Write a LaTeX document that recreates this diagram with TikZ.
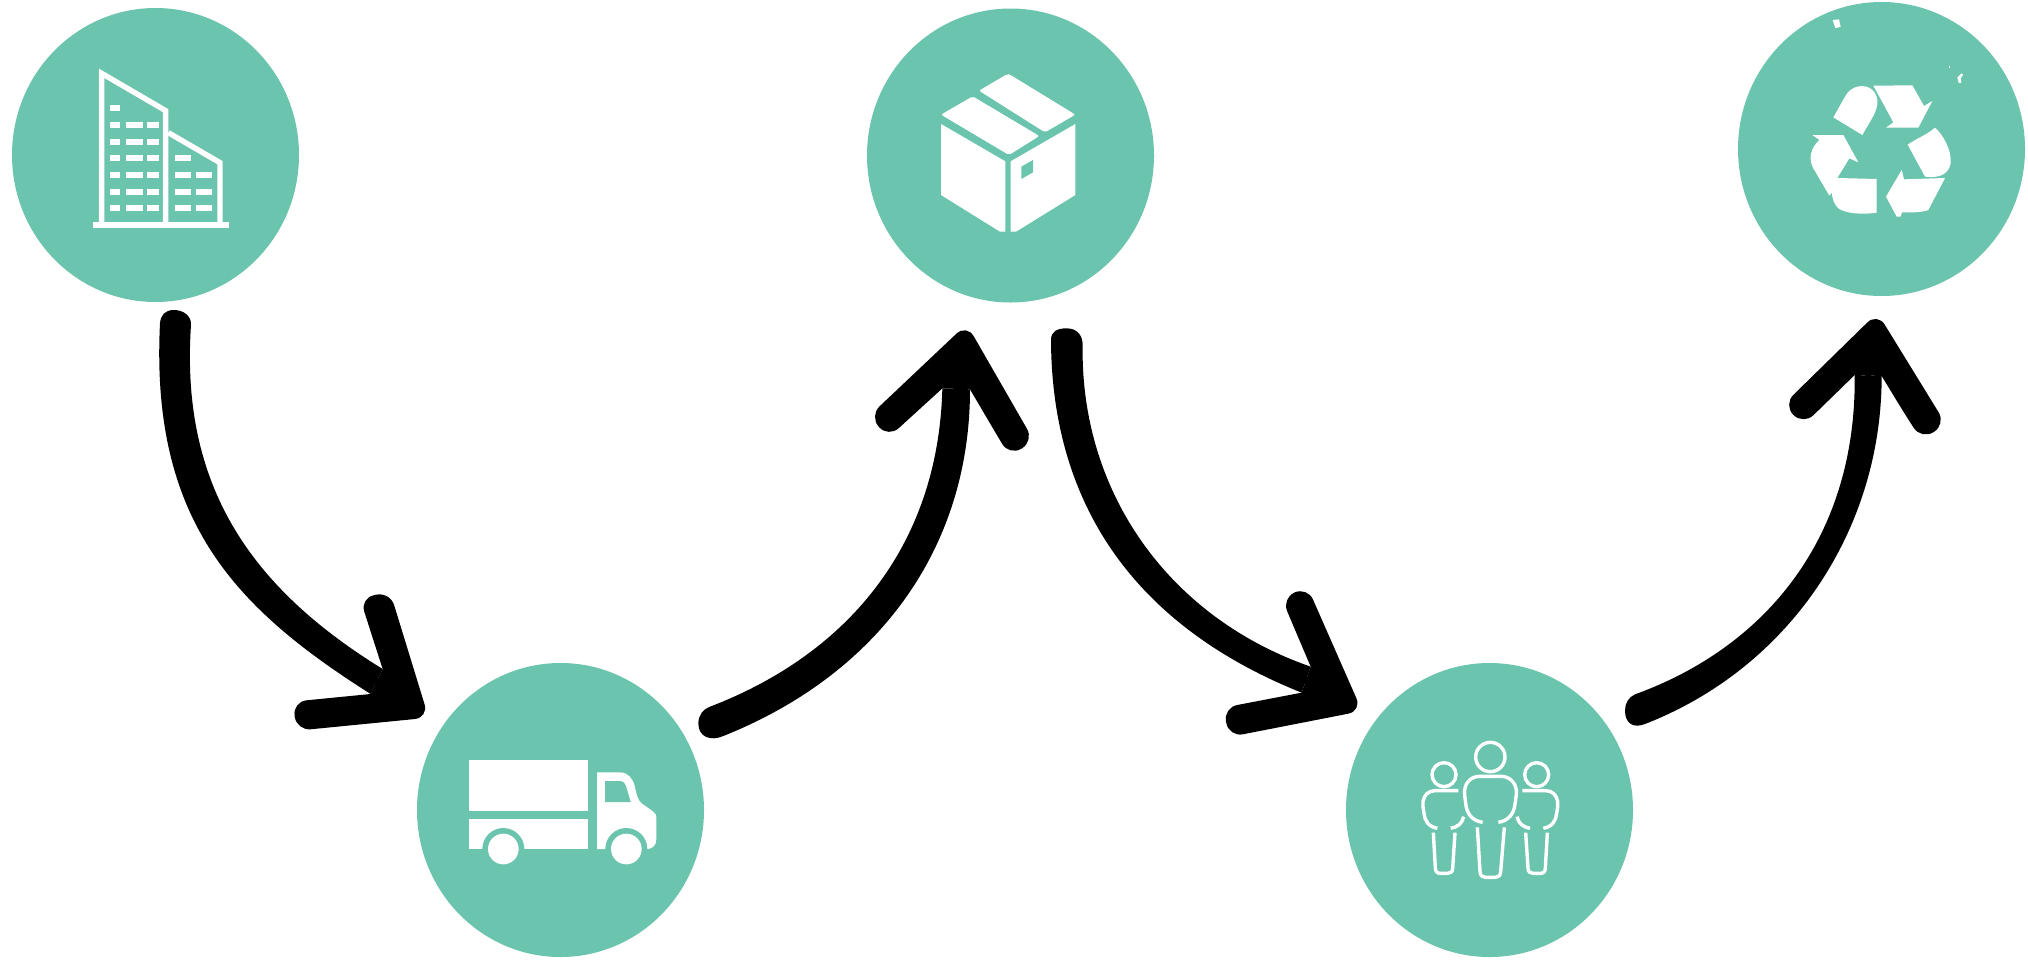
\documentclass[tikz,border=0pt]{standalone}
\usetikzlibrary{shapes.geometric}
\definecolor{teal1}{HTML}{6BC4AD}
\tikzset{
  disc/.style={ellipse,fill=teal1,draw=none,inner sep=0pt,minimum width=287pt,minimum height=294pt},
  zoomed/.style={x=0.33333pt,y=-0.33333pt},
  shaftbody/.style={fill=black,draw=none},
  headbody/.style={fill=black,draw=none},
  connector/.style={draw=black,line width=6pt},
  iconfill/.style={fill=white,draw=none},
  iconline/.style={draw=white,line width=5.4pt,fill=none},
  personline/.style={draw=white,line width=3.4pt,fill=none,line cap=butt,line join=round}
}
\begin{document}
\begin{tikzpicture}[x=1pt,y=-1pt]
\path[use as bounding box,fill=white] (0,0) rectangle (2028,959);

\node[disc] (factory) at (155.5,155) {};
\node[disc] (box) at (1010.5,155.5) {};
\node[disc] (recycle) at (1881.5,149) {};
\node[disc] (truck) at (560.5,810) {};
\node[disc] (people) at (1489.5,810) {};

% building
\begin{scope}[zoomed]
\draw[iconline,line join=miter] (305,672) -- (305,220) -- (497,332) -- (497,672);
\draw[iconline,line join=miter] (505,398) -- (660,488) -- (660,672);
\fill[white] (280,666) rectangle (686,684);
\foreach \yy in {324,375,425,475,525,575,625} {\fill[white] (329,\yy-9) rectangle (361,\yy+9);}
\foreach \yy in {375,425,475,525,575,625} {
  \fill[white] (378,\yy-9) rectangle (428,\yy+9);
  \fill[white] (442,\yy-9) rectangle (477,\yy+9);}
\foreach \yy in {475,525,575,625} {\fill[white] (525,\yy-9) rectangle (574,\yy+9);}
\foreach \yy in {525,575,625} {\fill[white] (588,\yy-9) rectangle (637,\yy+9);}
\end{scope}

% box
\begin{scope}[shift={(860,0)},zoomed]
\fill[iconfill,rounded corners=2pt] (357,272) -- (442,222) -- (450,224) -- (646,344) -- (555,397) -- cycle;
\fill[iconfill,rounded corners=2pt] (243,344) -- (338,289) -- (538,408) -- (447,465) -- cycle;
\fill[iconfill] (243,372) -- (436,484) -- (436,695) -- (420,695) -- (243,585) -- cycle;
\fill[iconfill] (452,484) -- (646,372) -- (646,585) -- (468,695) -- (452,695) -- cycle;
\fill[teal1] (484,500) -- (519,480) -- (519,517) -- (484,537) -- cycle;
\end{scope}

% recycle
\begin{scope}[shift={(1730,0)},zoomed]
\fill[iconfill] (310,352) -- (345,290) .. controls (360,262) and (385,255) .. (410,260) .. controls (435,268) and (448,295) .. (440,322) .. controls (435,345) and (415,372) .. (397,405) -- cycle;
\fill[iconfill] (430,257) -- (547,256) -- (582,318) -- (607,303) -- (565,383) -- (468,383) -- (490,367) -- cycle;
\fill[iconfill] (533,434) .. controls (560,415) and (590,405) .. (615,383) .. controls (640,405) and (665,450) .. (662,490) .. controls (655,525) and (625,535) .. (585,530) -- cycle;
\fill[iconfill] (645,534) -- (595,630) .. controls (575,638) and (545,637) .. (516,637) -- (512,650) -- (500,650) -- (468,590) -- (515,510) -- (522,538) -- cycle;
\fill[iconfill] (247,405) -- (340,405) -- (385,487) -- (358,475) -- (322,534) -- (440,537) -- (440,638) .. controls (395,645) and (345,640) .. (325,625) .. controls (312,612) and (308,600) .. (305,578) -- (298,587) -- (250,505) .. controls (235,480) and (240,445) .. (268,420) -- cycle;
\fill[iconfill] (308,60) -- (327,58) -- (332,80) -- (316,85) -- cycle;
\fill[iconfill] (682,232) -- (695,220) -- (699,224) -- (692,236) -- (694,248) -- (686,249) -- cycle;
\fill[iconfill] (657,199) rectangle (660,203);
\end{scope}

% truck
\begin{scope}[shift={(300,700)},zoomed]
\fill[iconfill] (508,180) rectangle (865,332);
\fill[iconfill] (508,357) rectangle (865,447);
\fill[teal1] (610,447) circle[radius=63];
\fill[iconfill] (610,447) circle[radius=46];
\end{scope}
\begin{scope}[shift={(540,700)},zoomed]
\fill[iconfill] (171,217) -- (240,217) .. controls (265,218) and (278,235) .. (284,258) .. controls (290,285) and (293,300) .. (305,310) -- (340,335) .. controls (346,340) and (349,345) .. (349,352) -- (349,418) .. controls (349,435) and (338,446) .. (323,447) -- (171,447) -- cycle;
\fill[teal1] (259,447) circle[radius=63];
\fill[iconfill] (259,447) circle[radius=46];
\fill[teal1] (195,243) -- (238,243) .. controls (250,243) and (256,250) .. (258,258) -- (272,306) -- (195,306) -- cycle;
\end{scope}

% people
\begin{scope}[shift={(1400,700)},zoomed]
\draw[personline] (271,171) circle[radius=44];
\draw[personline] (132,224) circle[radius=36];
\draw[personline] (410,224) circle[radius=36];
\draw[personline] (248,367) .. controls (215,362) and (200,340) .. (197,310) .. controls (195,295) and (193,280) .. (194,270) .. controls (197,245) and (215,229) .. (240,229) -- (302,229) .. controls (327,229) and (345,245) .. (349,270) .. controls (350,285) and (347,295) .. (345,312) .. controls (342,340) and (327,362) .. (295,367);
\draw[personline] (232,382) -- (240,515) .. controls (241,527) and (247,532) .. (256,532) -- (286,532) .. controls (295,532) and (301,527) .. (302,515) -- (313,382);
\draw[personline] (112,385) .. controls (85,380) and (74,362) .. (72,340) .. controls (70,325) and (67,315) .. (69,305) .. controls (72,285) and (85,272) .. (105,272) -- (175,272);
\draw[personline] (152,385) .. controls (172,382) and (187,370) .. (191,350);
\draw[personline] (100,398) -- (106,505) .. controls (107,516) and (112,520) .. (122,520) -- (143,520) .. controls (152,520) and (157,516) .. (158,505) -- (165,398);
\draw[personline] (430,385) .. controls (457,380) and (468,362) .. (470,340) .. controls (472,325) and (475,315) .. (473,305) .. controls (470,285) and (457,272) .. (437,272) -- (367,272);
\draw[personline] (390,385) .. controls (370,382) and (355,370) .. (351,350);
\draw[personline] (442,398) -- (436,505) .. controls (435,516) and (430,520) .. (420,520) -- (399,520) .. controls (390,520) and (385,516) .. (384,505) -- (377,398);
\end{scope}

% arrow factory -> truck
\begin{scope}[shift={(100,290)},zoomed]
\coordinate (a1s) at (227,105);
\coordinate (a1t) at (930,1243);
\fill[shaftbody] (273,105) .. controls (240,590) and (455,895) .. (848,1137) -- (812,1212) .. controls (415,960) and (150,700) .. (180,100) .. controls (182,75) and (195,60) .. (222,60) .. controls (252,60) and (275,80) .. (273,105) -- cycle;
\fill[headbody] (848,1137) [rounded corners=14pt] -- (780,925) -- (870,905) -- (986,1283) -- (590,1322) -- (578,1235) -- (700,1223) [sharp corners] -- (812,1212) -- cycle;
\draw[connector] (a1s) .. controls (195,645) and (435,928) .. (830,1175) -- (a1t);
\end{scope}

% arrow truck -> box
\begin{scope}[shift={(680,290)},zoomed]
\coordinate (a2s) at (100,1298);
\coordinate (a2t) at (850,170);
\fill[shaftbody] (90,1250) .. controls (495,1095) and (775,775) .. (787,295) -- (870,298) .. controls (870,770) and (600,1150) .. (130,1338) .. controls (90,1355) and (55,1340) .. (55,1300) .. controls (55,1275) and (70,1257) .. (90,1250) -- cycle;
\fill[headbody] (787,295) [rounded corners=14pt] -- (625,443) -- (568,378) -- (860,102) -- (1062,453) -- (988,498) -- (930,400) [sharp corners] -- (870,298) -- cycle;
\draw[connector] (a2s) .. controls (548,1122) and (822,772) .. (828,296) -- (a2t);
\end{scope}

% arrow box -> people
\begin{scope}[shift={(1060,290)},zoomed]
\coordinate (a3s) at (20,158);
\coordinate (a3t) at (848,1232);
\fill[shaftbody] (68,165) .. controls (60,600) and (320,980) .. (752,1130) -- (725,1208) .. controls (230,1010) and (-25,650) .. (-27,150) .. controls (-27,125) and (-10,115) .. (20,115) .. controls (50,115) and (68,135) .. (68,165) -- cycle;
\fill[headbody] (752,1130) [rounded corners=14pt] -- (665,925) -- (742,890) -- (906,1263) -- (507,1341) -- (490,1253) -- (610,1230) [sharp corners] -- (725,1208) -- cycle;
\draw[connector] (a3s) .. controls (18,625) and (275,995) .. (738,1169) -- (a3t);
\end{scope}

% arrow people -> recycle
\begin{scope}[shift={(1590,290)},zoomed]
\coordinate (a4s) at (152,1256);
\coordinate (a4t) at (850,135);
\fill[shaftbody] (135,1213) .. controls (530,1070) and (800,740) .. (794,255) -- (875,258) .. controls (875,720) and (600,1130) .. (170,1300) .. controls (130,1318) and (105,1300) .. (105,1262) .. controls (105,1240) and (115,1222) .. (135,1213) -- cycle;
\fill[headbody] (794,255) [rounded corners=14pt] -- (640,405) -- (580,344) -- (862,68) -- (1068,403) -- (994,449) -- (940,365) [sharp corners] -- (875,258) -- cycle;
\draw[connector] (a4s) .. controls (565,1100) and (838,730) .. (835,256) -- (a4t);
\end{scope}
\end{tikzpicture}
\end{document}
